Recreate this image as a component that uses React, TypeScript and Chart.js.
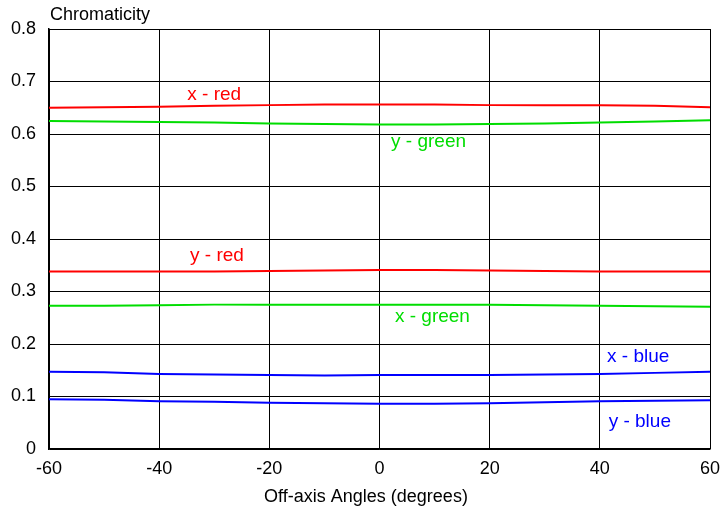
import React, { useEffect, useRef } from "react";
import { Chart, registerables } from "chart.js";

Chart.register(...registerables);

const angles = [-60, -50, -40, -30, -20, -10, 0, 10, 20, 30, 40, 50, 60];
const xRed = [0.65, 0.651, 0.652, 0.654, 0.655, 0.656, 0.656, 0.656, 0.655, 0.655, 0.655, 0.654, 0.651];
const yGreen = [0.625, 0.624, 0.623, 0.622, 0.62, 0.619, 0.618, 0.618, 0.619, 0.62, 0.622, 0.624, 0.626];
const yRed = [0.338, 0.338, 0.338, 0.338, 0.339, 0.34, 0.341, 0.341, 0.34, 0.339, 0.338, 0.338, 0.338];
const xGreen = [0.273, 0.273, 0.274, 0.275, 0.275, 0.275, 0.275, 0.275, 0.275, 0.274, 0.273, 0.272, 0.271];
const xBlue = [0.147, 0.146, 0.143, 0.142, 0.141, 0.14, 0.141, 0.141, 0.141, 0.142, 0.143, 0.145, 0.147];
const yBlue = [0.095, 0.094, 0.091, 0.09, 0.088, 0.087, 0.086, 0.086, 0.087, 0.089, 0.091, 0.092, 0.093];

const seriesNames = ["x - red", "y - green", "y - red", "x - green", "x - blue", "y - blue"];
const seriesColors = ["#ff0000", "#00dd00", "#ff0000", "#00dd00", "#0000ff", "#0000ff"];
const seriesValues = [xRed, yGreen, yRed, xGreen, xBlue, yBlue];
// label anchors in data coordinates (angle, chromaticity)
const labelAngle = [-34.9, 2.1, -34.4, 2.8, 41.3, 41.6];
const labelValue = [0.665, 0.575, 0.358, 0.242, 0.166, 0.042];

const xTicks = [-60, -40, -20, 0, 20, 40, 60];
const yAxisTitle = "Chromaticity";
const xAxisTitle = "Off-axis Angles (degrees)";

const FONT = "'Liberation Sans', Arial, sans-serif";

export default function App() {
  const ref = useRef<HTMLCanvasElement | null>(null);

  useEffect(() => {
    document.body.style.margin = "0";
    const canvas = ref.current;
    if (!canvas) return;

    const labelsPlugin = {
      id: "seriesLabels",
      afterDraw(chart: any) {
        const { ctx, scales } = chart;
        const xs = scales.x;
        const ys = scales.y;
        ctx.save();
        ctx.font = `19px ${FONT}`;
        ctx.textAlign = "left";
        ctx.textBaseline = "alphabetic";
        seriesNames.forEach((name, i) => {
          ctx.fillStyle = seriesColors[i];
          ctx.fillText(name, xs.getPixelForValue(labelAngle[i]), ys.getPixelForValue(labelValue[i]));
        });
        ctx.fillStyle = "#000";
        ctx.font = `18px ${FONT}`;
        ctx.fillText(yAxisTitle, chart.chartArea.left + 1, 20);
        ctx.textAlign = "center";
        ctx.textBaseline = "middle";
        ctx.fillText(xAxisTitle, 366, 497);
        ctx.restore();
      },
    };

    const chart = new Chart(canvas, {
      type: "line",
      data: {
        labels: angles,
        datasets: seriesNames.map((name, i) => ({
          label: name,
          data: angles.map((a, j) => ({ x: a, y: seriesValues[i][j] })),
          borderColor: seriesColors[i],
          backgroundColor: seriesColors[i],
          borderWidth: 2,
          pointRadius: 0,
          tension: 0,
          fill: false,
        })),
      },
      options: {
        responsive: false,
        animation: false,
        layout: { padding: { top: 29, right: 12, left: 0, bottom: 0 } },
        plugins: {
          legend: { display: false },
          tooltip: { enabled: false },
        },
        scales: {
          x: {
            type: "linear",
            min: -60,
            max: 60,
            afterBuildTicks: (scale: any) => {
              scale.ticks = xTicks.map((v) => ({ value: v }));
            },
            afterFit: (scale: any) => {
              scale.height = 66;
              scale.paddingLeft = 0;
              scale.paddingRight = 0;
            },
            grid: { color: "#000", lineWidth: 1, drawTicks: false },
            border: { color: "#000", width: 1.5 },
            ticks: {
              color: "#000",
              font: { family: FONT, size: 18 },
              padding: 9,
              maxRotation: 0,
              autoSkip: false,
            },
          },
          y: {
            type: "linear",
            min: 0,
            max: 0.8,
            afterFit: (scale: any) => {
              scale.width = 49;
              scale.paddingTop = 0;
              scale.paddingBottom = 0;
            },
            grid: { color: "#000", lineWidth: 1, drawTicks: false },
            border: { color: "#000", width: 1.5 },
            ticks: {
              stepSize: 0.1,
              color: "#000",
              font: { family: FONT, size: 18 },
              padding: 13,
              callback: (v: any) => {
                const n = Math.round(Number(v) * 10) / 10;
                return n === 0 ? "0" : n.toFixed(1);
              },
            },
          },
        },
      },
      plugins: [labelsPlugin],
    });

    return () => chart.destroy();
  }, []);

  return (
    <div style={{ width: 722, height: 515 }}>
      <canvas ref={ref} width={722} height={515} style={{ display: "block" }} />
    </div>
  );
}
